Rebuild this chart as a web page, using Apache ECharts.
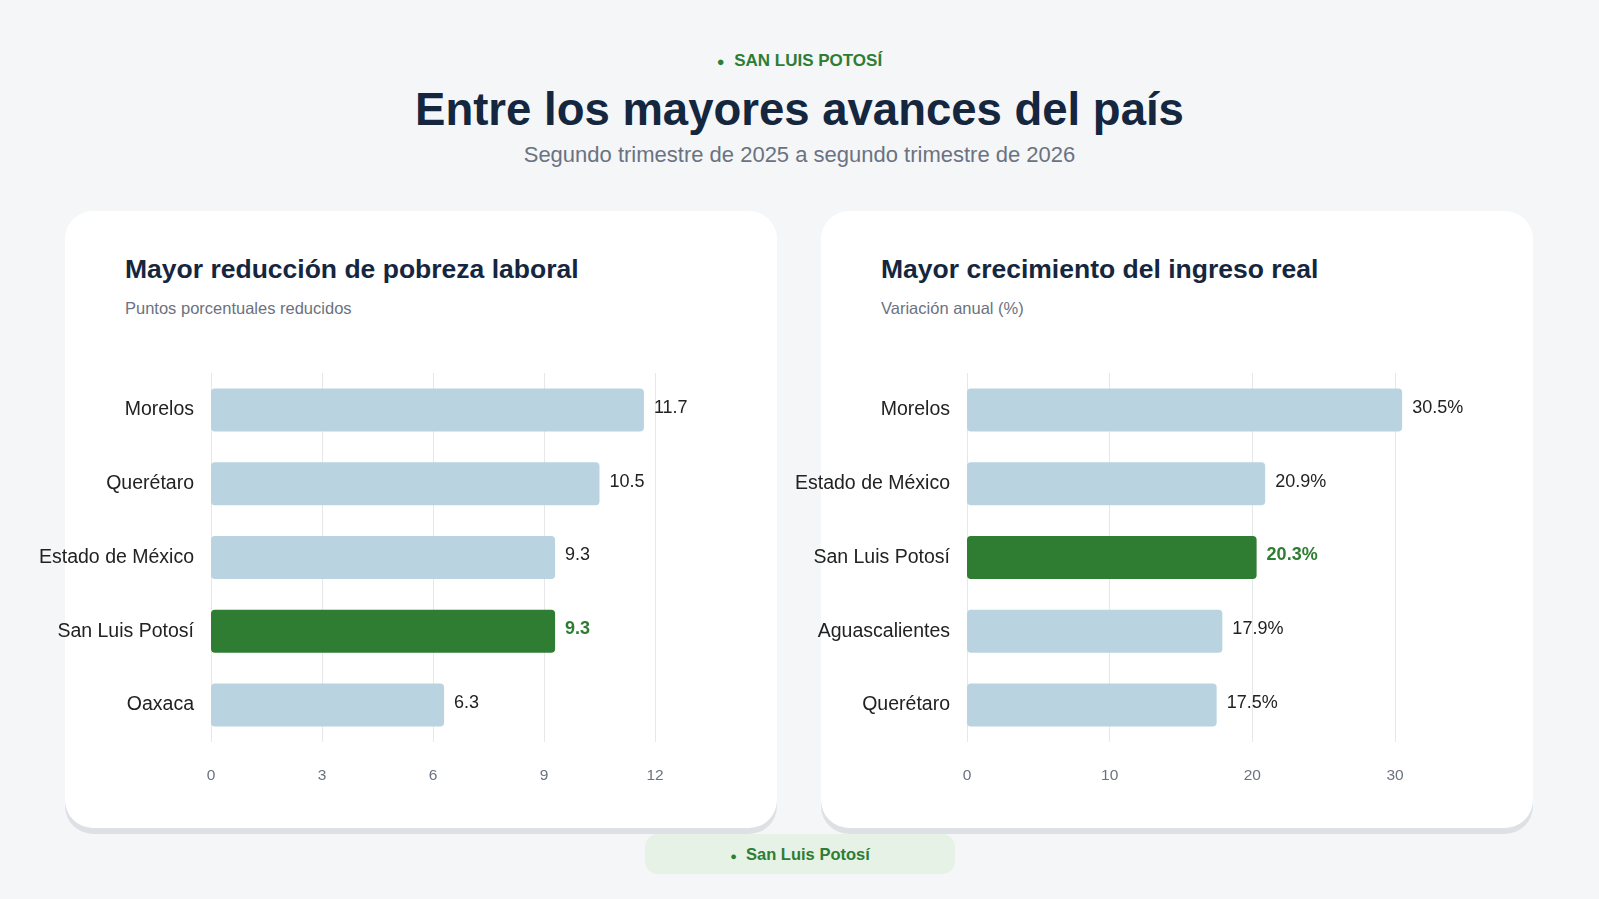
<!DOCTYPE html><html><head><meta charset="utf-8">
<script src="https://cdn.jsdelivr.net/npm/echarts@6/dist/echarts.min.js"></script>
<style>
body{margin:0;width:1599px;height:899px;background:#f4f6f8;font-family:"Liberation Sans",Arial,sans-serif;position:relative;overflow:hidden}
.card{position:absolute;top:211px;width:712px;height:617px;background:#fff;border-radius:28px;box-shadow:0 6px 0 #dde1e6}
.t{position:absolute;left:0;width:1599px;text-align:center}
.ct{position:absolute;font-weight:bold;font-size:26.5px;color:#15263f}
.cs{position:absolute;font-size:16.5px;color:#6b7280}
#c{position:absolute;left:0;top:0;width:1599px;height:899px}
</style></head><body>
<div class="t" style="top:51px;font-size:17px;font-weight:bold;color:#2e7d32"><span style="font-size:13px">●</span>&nbsp; SAN LUIS POTOSÍ</div>
<div class="t" style="top:84px;font-size:45.5px;font-weight:bold;color:#15263f">Entre los mayores avances del país</div>
<div class="t" style="top:142px;font-size:22px;color:#6b7280">Segundo trimestre de 2025 a segundo trimestre de 2026</div>
<div class="card" style="left:65px"></div><div class="card" style="left:821px"></div>
<div class="ct" style="left:125px;top:254px">Mayor reducción de pobreza laboral</div>
<div class="cs" style="left:125px;top:299px">Puntos porcentuales reducidos</div>
<div class="ct" style="left:881px;top:254px">Mayor crecimiento del ingreso real</div>
<div class="cs" style="left:881px;top:299px">Variación anual (%)</div>
<div style="position:absolute;left:645px;top:834px;width:310px;height:40px;background:#e6f2e6;border-radius:13px;text-align:center;line-height:40px;font-size:16.5px;font-weight:bold;color:#2e7d32"><span style="font-size:11px">●</span>&nbsp; San Luis Potosí</div>
<div id="c"></div>
<script>
const cats1=["Morelos","Querétaro","Estado de México","San Luis Potosí","Oaxaca"];
const vals1=[11.7,10.5,9.3,9.3,6.3];
const cats2=["Morelos","Estado de México","San Luis Potosí","Aguascalientes","Querétaro"];
const vals2=[30.5,20.9,20.3,17.9,17.5];
const hl="San Luis Potosí";
function data(c,v){return v.map((x,i)=>({value:x,itemStyle:{color:c[i]===hl?'#2e7d32':'#b9d3e0'},label:{color:c[i]===hl?'#2e7d32':'#222',fontWeight:c[i]===hl?'bold':'normal'}}));}
const ch=echarts.init(document.getElementById('c'));
const ax={type:'value',min:0,axisLine:{show:false},axisTick:{show:false},axisLabel:{color:'#6b7280',fontSize:15.5,margin:26},splitLine:{lineStyle:{color:'#e5e7eb'}}};
const ya=c=>({type:'category',inverse:true,data:c,axisLine:{show:false},axisTick:{show:false},axisLabel:{color:'#222',fontSize:19.5,margin:17}});
ch.setOption({animation:false,textStyle:{fontFamily:'Liberation Sans'},
grid:[{left:211,width:444,top:373,height:369},{left:967,width:428,top:373,height:369}],
xAxis:[Object.assign({},ax,{gridIndex:0,max:12,interval:3}),Object.assign({},ax,{gridIndex:1,max:30,interval:10})],
yAxis:[Object.assign(ya(cats1),{gridIndex:0}),Object.assign(ya(cats2),{gridIndex:1})],
series:[{type:'bar',xAxisIndex:0,yAxisIndex:0,barWidth:43,clip:false,itemStyle:{borderRadius:4},label:{show:true,position:'right',fontSize:18,distance:10,offset:[0,-2]},data:data(cats1,vals1)},
{type:'bar',xAxisIndex:1,yAxisIndex:1,barWidth:43,clip:false,itemStyle:{borderRadius:4},label:{show:true,position:'right',fontSize:18,distance:10,offset:[0,-2],formatter:p=>p.value+'%'},data:data(cats2,vals2)}]});
</script></body></html>
